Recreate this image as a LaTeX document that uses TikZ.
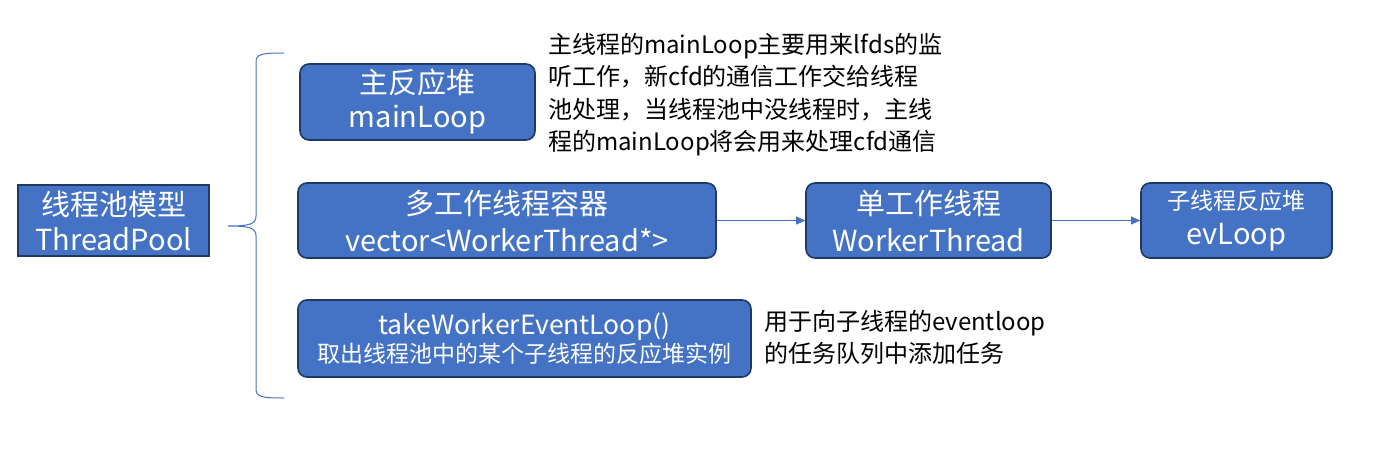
\documentclass[tikz,border=0pt]{standalone}
\usepackage{fontspec}
\setmainfont{Noto Sans CJK SC}
\usetikzlibrary{arrows.meta}
\definecolor{boxfill}{HTML}{4472C4}
\definecolor{boxedge}{HTML}{1F3864}
\NewDocumentCommand{\sz}{ m m }{\fontsize{#1}{#2}\selectfont}
\tikzset{
    box/.style={draw=boxedge, fill=boxfill, line width=1.6pt, text=white,
        align=center, rounded corners=9pt, inner sep=0pt},
    note/.style={anchor=north west, align=left, inner sep=0pt, font=\sz{24}{32.5}},
    arr/.style={draw=boxfill, line width=0.9pt, -{Triangle[length=9pt,width=8pt]}}
}
\begin{document}
\begin{tikzpicture}[x=1pt, y=-1pt]
                    \useasboundingbox (0,0) rectangle (1375,457);
                    \node[box, rounded corners=0pt, minimum width=191pt, minimum height=71pt, font=\sz{29}{35}]
                        (pool) at (113.5,220.5) {线程池模型\\ThreadPool};
                    \node[box, minimum width=235pt, minimum height=76pt, font=\sz{29}{34}]
                        (main) at (417.5,102) {主反应堆\\mainLoop};
                    \node[box, minimum width=418pt, minimum height=75pt, font=\sz{29}{37}]
                        (workers) at (507,220.5) {多工作线程容器\\vector<WorkerThread*>};
                    \node[box, minimum width=245pt, minimum height=75pt, font=\sz{29}{37}]
                        (worker) at (928.5,220.5) {单工作线程\\WorkerThread};
                    \node[box, minimum width=191pt, minimum height=75pt]
                        (evloop) at (1236.5,220.5) {\sz{23}{30}子线程反应堆\\[10pt]\sz{29}{36}evLoop};
                    \node[box, minimum width=453pt, minimum height=77pt]
                        (take) at (524.5,338.5) {\sz{26.5}{31}takeWorkerEventLoop()\\[2pt]\sz{23}{31}取出线程池中的某个子线程的反应堆实例};
                    \node[note] (mainnote) at (548,33) {主线程的mainLoop主要用来lfds的监\\听工作，新cfd的通信工作交给线程\\池处理，当线程池中没线程时，主线\\程的mainLoop将会用来处理cfd通信};
                    \node[note] (takenote) at (764,310) {用于向子线程的eventloop\\的任务队列中添加任务};
                    % brace from the pool to the three parts
                    \coordinate (tip) at (228,226);
                    \draw[boxfill, line width=1pt] (284,53) .. controls (262,53) and (256,54) .. (256,62)
                        -- (256,216) .. controls (256,224) and (250,226) .. (tip)
                        .. controls (250,226) and (256,228) .. (256,236)
                        -- (256,389) .. controls (256,397) and (262,398) .. (284,398);
                    \draw[arr] (workers) -- (worker);
                    \draw[arr] (worker) -- (evloop);
                \end{tikzpicture}
\end{document}
